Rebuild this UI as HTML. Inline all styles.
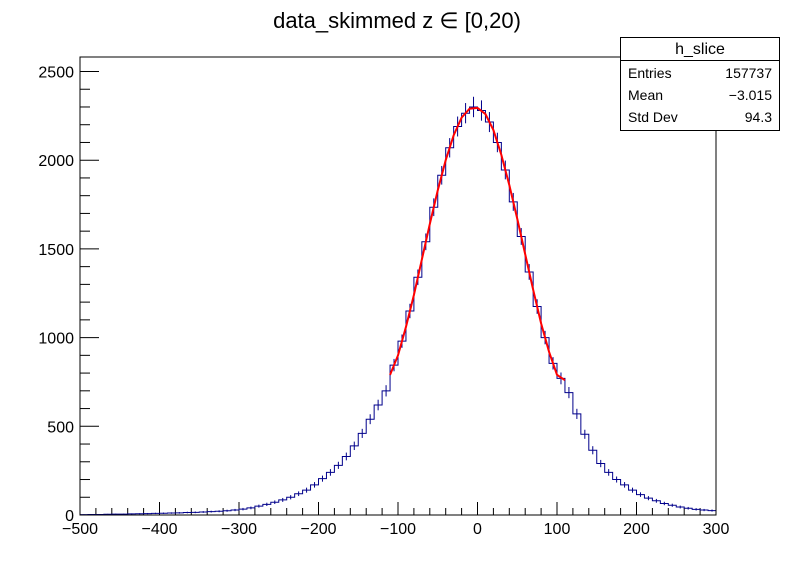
<!DOCTYPE html>
<html><head><meta charset="utf-8"><style>
body{margin:0;background:#fff;}
svg{display:block;font-family:"Liberation Sans",sans-serif;}
</style></head><body>
<svg id="c" width="796" height="572">
<rect width="796" height="572" fill="#fff"/>
<text x="397" y="28" font-size="22" text-anchor="middle">data_skimmed z  ∈ [0,20)</text>
<g id="axes"></g>
<g id="hist"></g>
<g id="fit"></g>
<rect x="80" y="57" width="636" height="458" fill="none" stroke="#000" stroke-width="1"/>
<g>
<rect x="620.5" y="37.5" width="159" height="93" fill="#fff" stroke="#000"/>
<line x1="620" y1="60.5" x2="780" y2="60.5" stroke="#000"/>
<text x="700" y="54" font-size="16" text-anchor="middle">h_slice</text>
<text x="628" y="78" font-size="14">Entries</text>
<text x="772" y="78" font-size="14" text-anchor="end">157737</text>
<text x="628" y="100" font-size="14">Mean</text>
<text x="772" y="100" font-size="14" text-anchor="end">−3.015</text>
<text x="628" y="122" font-size="14">Std Dev</text>
<text x="772" y="122" font-size="14" text-anchor="end">94.3</text>
</g>
</svg>
<script>
const binEdges0 = -500;
const binWidth = 10;
const counts = [2,3,3,4,5,5,6,7,8,9,
10,11,12,14,15,17,19,21,24,28,
33,40,50,60,72,85,100,120,140,170,
205,240,280,330,390,460,540,620,700,845,
980,1150,1340,1540,1735,1915,2070,2190,2265,2300,
2280,2215,2100,1945,1765,1570,1370,1175,1000,855,
770,690,570,455,365,290,240,200,170,140,
115,95,80,65,55,45,38,32,28,25];
const fitX = [-110,-100,-90,-80,-70,-60,-50,-40,-30,-20,-10,0,10,20,30,40,50,60,70,80,90,100,110];
const fitY = [790,900,1060,1240,1440,1640,1830,2000,2140,2240,2290,2295,2260,2170,2030,1860,1670,1470,1270,1080,920,790,760];
const xTicks = [-500,-400,-300,-200,-100,0,100,200,300];
const yTicks = [0,500,1000,1500,2000,2500];

const L=80,R=716,T=57,B=515;
const xMin=-500,xMax=300;
function X(v){return L+(v-xMin)/(xMax-xMin)*(R-L);}
function Y(v){return B-v*0.1774;}
const NS="http://www.w3.org/2000/svg";
function mk(tag,attrs,parent){const e=document.createElementNS(NS,tag);for(const k in attrs)e.setAttribute(k,attrs[k]);parent.appendChild(e);return e;}
const axes=document.getElementById('axes');
for(let v=-500;v<=300;v+=20){
  const major=(v%100===0);
  const l=mk('line',{x1:X(v),x2:X(v),y1:B,y2:B-(major?13:7),stroke:'#000'},axes);
  
  
}
xTicks.forEach(v=>{
  const t=mk('text',{x:X(v),y:B+19,'font-size':16,'text-anchor':'middle'},axes);
  t.textContent=v<0?'−'+(-v):String(v);
  
  
});
for(let v=0;v<=2500;v+=100){
  const major=(v%500===0);
  const l=mk('line',{x1:L,x2:L+(major?19:10),y1:Y(v),y2:Y(v),stroke:'#000'},axes);
  
  
}
yTicks.forEach(v=>{
  const t=mk('text',{x:L-6,y:Y(v)+6,'font-size':16,'text-anchor':'end'},axes);
  t.textContent=String(v);
  
  
});
const hist=document.getElementById('hist');
let d='';
counts.forEach((c,i)=>{
  const x0=X(binEdges0+i*binWidth),x1=X(binEdges0+(i+1)*binWidth);
  d+=(i===0?'M':'L')+x0+','+Y(c)+'L'+x1+','+Y(c);
});
const hp=mk('path',{d:d,fill:'none',stroke:'#00008b','stroke-width':1},hist);


counts.forEach((c,i)=>{
  const xc=X(binEdges0+(i+0.5)*binWidth),e=Math.sqrt(c)*1.2;
  const l=mk('line',{x1:xc,x2:xc,y1:Y(c+e),y2:Y(Math.max(0,c-e)),stroke:'#00008b'},hist);
  
  
});
const fit=document.getElementById('fit');
const fp=mk('polyline',{points:fitX.map((x,i)=>X(x)+','+Y(fitY[i])).join(' '),fill:'none',stroke:'#f00','stroke-width':2},fit);


</script>
</body></html>
